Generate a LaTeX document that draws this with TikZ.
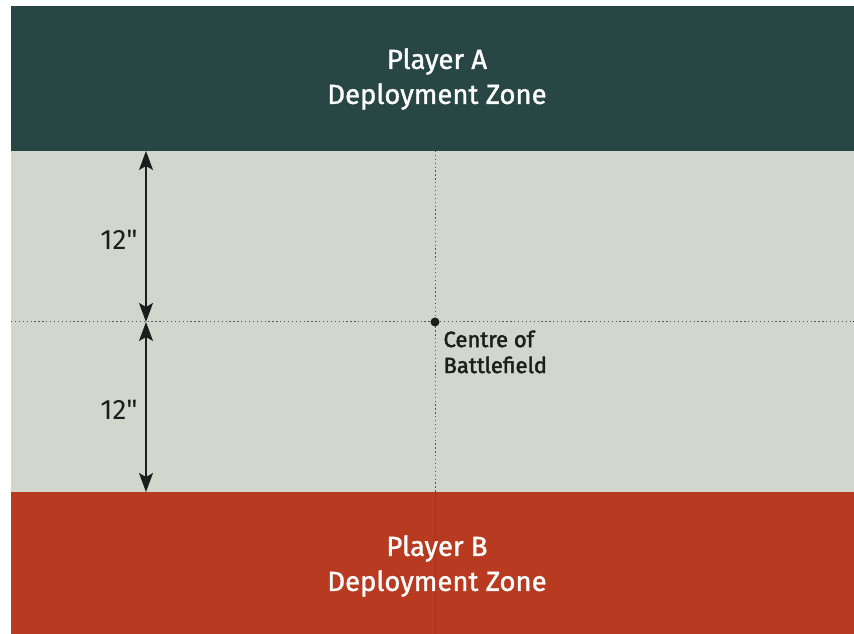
\documentclass[tikz,border=0pt]{standalone}
\usepackage{fontspec}
\setmainfont{Fira Sans}
\newfontfamily\zonefont[FakeBold=1.3]{Fira Sans}
\newfontfamily\markfont[FakeBold=2]{Fira Sans}
\usetikzlibrary{arrows.meta}

\definecolor{zoneA}{RGB}{40,70,67}
\definecolor{zoneB}{RGB}{184,58,32}
\definecolor{field}{RGB}{210,215,205}
\definecolor{ink}{RGB}{28,30,28}

\tikzset{
  zonetext/.style={align=center,text=white!94!field,font=\zonefont\fontsize{27.5}{35}\selectfont},
  measure/.style={font=\fontsize{28}{30}\selectfont,text=ink},
  guide/.style={ink!75,line width=1pt,dash pattern=on 1.3pt off 2.6pt},
  dim/.style={{Stealth[length=19pt,width=14pt,inset=4pt]}-{Stealth[length=19pt,width=14pt,inset=4pt]},ink,line width=1.2pt}
}

\begin{document}
\begin{tikzpicture}[x=1pt,y=1pt]
	\useasboundingbox (0,0) rectangle (854,634);
	\fill[white] (0,0) rectangle (854,634);

	%%% the battlefield bands
	\fill[field] (11,142) rectangle (854,483);
	\fill[zoneA] (11,483) rectangle (854,628);
	\fill[zoneB] (11,0) rectangle (854,142);

	%%% centre lines
	\coordinate (Centre) at (435,312);
	\coordinate (LeftEdge) at (11,312);
	\coordinate (RightEdge) at (854,312);
	\coordinate (TopEdge) at (435,483);
	\coordinate (BottomEdge) at (435,142);
	\coordinate (RedFoot) at (435,0);

	\draw[guide] (LeftEdge) -- (RightEdge);
	\draw[guide] (TopEdge) -- (BottomEdge);
	\draw[zoneB!80!black,line width=0.8pt,opacity=0.5] (BottomEdge) -- (RedFoot);
	\fill[ink] (Centre) circle (4.5pt);

	\node[anchor=north west,align=left,text=ink,font=\markfont\fontsize{22}{26}\selectfont] (CentreLabel) at (440,307) {Centre of\\Battlefield};

	%%% deployment zones
	\node[zonetext] (PlayerA) at (437,555) {Player A\\Deployment Zone};
	\node[zonetext] (PlayerB) at (437,68) {Player B\\Deployment Zone};

	%%% 12" measurements
	\coordinate (DimTop) at (146,483);
	\coordinate (DimMid) at (146,312);
	\coordinate (DimBot) at (146,142);

	\draw[dim] (DimTop) -- (DimMid);
	\draw[dim] (DimMid) -- (DimBot);

	\node[measure] (UpperDim) at (119,394) {12\textquotedbl};
	\node[measure] (LowerDim) at (119,224) {12\textquotedbl};
\end{tikzpicture}
\end{document}
